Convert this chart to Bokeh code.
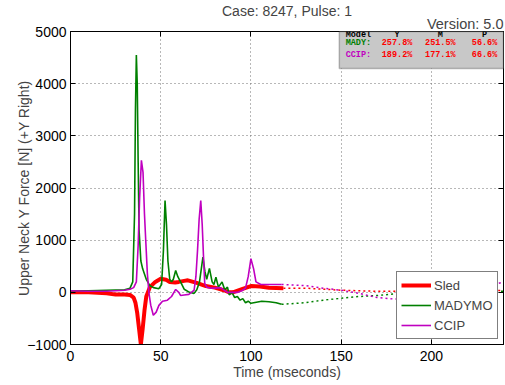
from bokeh.plotting import figure
from bokeh.models import (Range1d, LinearAxis, FixedTicker, Label, BoxAnnotation,
                          Legend, LegendItem, Title)
from bokeh.embed import file_html
from bokeh.resources import INLINE

# ---------------- data ----------------
x_ticks = [0, 50, 100, 150, 200]
y_ticks = [-1000, 0, 1000, 2000, 3000, 4000, 5000]

sled_t = [0, 10, 20, 25, 30, 33, 35, 36, 37, 38, 39, 40, 41, 42, 44, 47, 50, 53, 55, 58,
          60, 63, 65, 68, 70, 75, 80, 85, 88, 90, 95, 100, 105, 110, 118]
sled_f = [0, 0, -20, -40, -40, -50, -100, -200, -400, -700, -1000, -700, -350, -80, 100,
          200, 260, 240, 200, 190, 200, 220, 230, 200, 180, 120, 90, 40, 0, 0, 60, 120,
          110, 90, 80]
sled_t_ext = [118, 130, 140, 150, 160, 170, 180, 190, 200, 210, 220, 230, 240]
sled_f_ext = [80, 80, 60, 40, 30, 20, 20, 10, 0, -10, 0, 20, 40]

mady_t = [0, 10, 20, 30, 33, 34.5, 35.5, 36, 36.5, 37, 37.5, 38, 39, 40, 42, 44, 46, 49,
          50.5, 51.5, 52.4, 53.2, 54, 55, 56, 57, 58.3, 59.5, 61, 63, 66, 68.5, 70, 71.5,
          72.5, 73.4, 74.5, 75.5, 77, 78.5, 79.5, 80.6, 82, 84, 85.5, 87, 88, 89.5, 91,
          92.5, 94, 95.5, 97, 98.5, 100, 103, 106, 110, 114, 117]
mady_f = [30, 30, 40, 50, 80, 200, 1500, 3500, 4550, 4000, 2500, 1200, 600, 450, 250,
          130, 90, 70, 150, 800, 1760, 1300, 600, 250, 200, 250, 420, 300, 200, 60, 0,
          -20, 50, 200, 450, 676, 400, 250, 460, 200, 150, 290, 100, 200, 50, 100, -50, 0,
          -100, -80, -150, -120, -200, -170, -210, -190, -170, -180, -200, -230]
mady_t_ext = [117, 130, 140, 150, 160, 170, 180, 190, 200, 210, 220, 230, 240]
mady_f_ext = [-230, -200, -150, -115, -80, -60, -30, -10, 0, 0, 0, 10, 20]

ccip_t = [0, 10, 20, 30, 33, 35, 36.5, 37.5, 38.3, 39.3, 40.2, 41, 41.7, 42.6, 43.5, 44.5,
          45.9, 47.5, 49, 51, 53.7, 56, 58.3, 60, 61, 63, 65.6, 67, 68.5, 69.5, 70.4, 71.3,
          72.2, 73, 73.7, 74.4, 75.5, 77.8, 80, 83, 87, 90, 92.6, 95, 97, 98.5, 100,
          101.5, 102.8, 105.5, 110, 117]
ccip_f = [30, 20, 20, 40, 60, 90, 200, 900, 1800, 2530, 2300, 1500, 1000, 360, -20, -250,
          -440, -380, -250, -170, -150, -80, 55, 0, -60, -50, -40, 0, 40, 300, 800, 1400,
          1760, 1300, 700, 170, 100, 80, 80, 90, 0, 0, 0, 30, 80, 300, 645, 450, 200, 150,
          150, 150]
ccip_t_ext = [117, 130, 140, 150, 160, 170, 180, 190, 200, 210, 220, 230, 240]
ccip_f_ext = [150, 130, 80, 40, -20, -100, -130, -120, -80, -40, 0, 100, 200]

table_cols = ["Model", "Y", "M", "P"]
table_models = ["MADY:", "CCIP:"]
table_values = [["257.8%", "251.5%", "56.6%"],
                ["189.2%", "177.1%", "66.6%"]]

RED = "#ff0000"
GREEN = "#008000"
MAGENTA = "#c000c0"
FONT = "Liberation Sans"

# ---------------- figure ----------------
p = figure(width=505, height=385, output_backend="svg", toolbar_location=None,
           x_range=Range1d(0, 240), y_range=Range1d(-1000, 5000),
           min_border_left=70, min_border_right=2, min_border_top=31,
           min_border_bottom=41)
p.background_fill_color = "white"
p.border_fill_color = "white"
p.outline_line_color = "black"
p.outline_line_width = 1

for ax in (p.xaxis[0], p.yaxis[0]):
    ax.major_label_text_font = FONT
    ax.major_label_text_font_size = "14px"
    ax.major_label_text_color = "black"
    ax.axis_label_text_font = FONT
    ax.axis_label_text_font_size = "14px"
    ax.axis_label_text_font_style = "normal"
    ax.major_tick_in = 5
    ax.major_tick_out = 0
    ax.minor_tick_in = 0
    ax.minor_tick_out = 0
    ax.axis_line_color = "black"
    ax.major_tick_line_color = "black"
p.xaxis.ticker = FixedTicker(ticks=x_ticks)
p.yaxis.ticker = FixedTicker(ticks=y_ticks)
p.xaxis.axis_label = "Time (mseconds)"
p.yaxis.axis_label = "Upper Neck Y Force [N] (+Y Right)"
p.xaxis.major_label_standoff = 6
p.xaxis.axis_label_standoff = 0
p.yaxis.major_label_standoff = 4
p.yaxis.axis_label_standoff = -8

top_ax = LinearAxis(ticker=FixedTicker(ticks=x_ticks), major_label_text_font_size="0px",
                    major_tick_in=5, major_tick_out=0, minor_tick_in=0, minor_tick_out=0,
                    major_label_standoff=0)
right_ax = LinearAxis(ticker=FixedTicker(ticks=y_ticks), major_label_text_font_size="0px",
                      major_tick_in=5, major_tick_out=0, minor_tick_in=0, minor_tick_out=0,
                      major_label_standoff=0)
p.add_layout(top_ax, "above")
p.add_layout(right_ax, "right")

# titles (above the frame)
p.add_layout(Title(text="Version: 5.0", align="right", text_font=FONT,
                   text_font_size="14.5px", text_font_style="normal", standoff=0,
                   offset=0), "above")
p.add_layout(Title(text="Case: 8247, Pulse: 1", align="center", text_font=FONT,
                   text_font_size="14px", text_font_style="normal", standoff=-11,
                   offset=0), "above")

p.xgrid.ticker = FixedTicker(ticks=x_ticks)
p.ygrid.ticker = FixedTicker(ticks=y_ticks)
for g in (p.xgrid[0], p.ygrid[0]):
    g.grid_line_color = "#707070"
    g.grid_line_dash = "1 3"
    g.grid_line_width = 1

# dotted extensions
p.line(sled_t_ext, sled_f_ext, line_color=RED, line_width=1.5, line_dash="2 3")
p.line(mady_t_ext, mady_f_ext, line_color=GREEN, line_width=1.5, line_dash="2 3")
p.line(ccip_t_ext, ccip_f_ext, line_color=MAGENTA, line_width=1.5, line_dash="2 3")

r_sled = p.line(sled_t, sled_f, line_color=RED, line_width=4)
r_mady = p.line(mady_t, mady_f, line_color=GREEN, line_width=1.6)
r_ccip = p.line(ccip_t, ccip_f, line_color=MAGENTA, line_width=1.6)

legend = Legend(items=[LegendItem(label="Sled", renderers=[r_sled]),
                       LegendItem(label="MADYMO", renderers=[r_mady]),
                       LegendItem(label="CCIP", renderers=[r_ccip])],
                location=(326, 5))
legend.label_text_font = FONT
legend.label_text_font_size = "13px"
legend.border_line_color = "black"
legend.border_line_width = 1.5
legend.padding = 4
legend.spacing = 2
legend.margin = 0
legend.glyph_width = 30
legend.glyph_height = 18
legend.label_height = 18
legend.label_standoff = 3
legend.background_fill_alpha = 1
p.add_layout(legend)

# inset table
p.add_layout(BoxAnnotation(left=149, right=240, top=5000, bottom=4290,
                           fill_color="#c8c8c8", fill_alpha=1,
                           line_color="#333333", line_width=1.5, level="annotation"))
col_x = [152.5, 181, 205, 229.5]
row_y = [4940, 4770, 4540]
MONO = "Liberation Mono"
p.add_layout(Label(x=col_x[0], y=row_y[0], text=table_cols[0], text_align="left",
                   text_baseline="middle", text_font=MONO, text_font_size="8.5px",
                   text_font_style="bold", text_color="black"))
for j in range(1, 4):
    p.add_layout(Label(x=col_x[j], y=row_y[0], text=table_cols[j], text_align="center",
                       text_baseline="middle", text_font=MONO, text_font_size="8.5px",
                       text_font_style="bold", text_color="black"))
model_colors = [GREEN, MAGENTA]
for i in range(2):
    p.add_layout(Label(x=col_x[0], y=row_y[i + 1], text=table_models[i], text_align="left",
                       text_baseline="middle", text_font=MONO, text_font_size="8.5px",
                       text_font_style="bold", text_color=model_colors[i]))
    for j in range(3):
        p.add_layout(Label(x=col_x[j + 1], y=row_y[i + 1], text=table_values[i][j],
                           text_align="center", text_baseline="middle", text_font=MONO,
                           text_font_size="8.5px", text_font_style="bold",
                           text_color=RED))

open("out.html", "w").write(file_html(p, INLINE))
